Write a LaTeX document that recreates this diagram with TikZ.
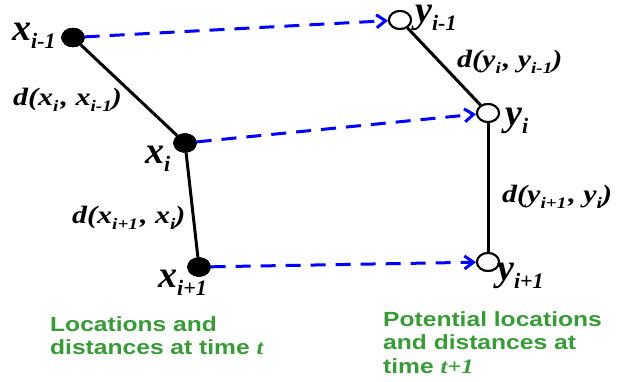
\documentclass[tikz,border=0pt]{standalone}
\usepackage{fontspec}
\setmainfont{Liberation Serif}
\newfontfamily\labsans[FakeStretch=1.2]{Liberation Sans}
\newfontfamily\labserif[FakeStretch=1.2]{Liberation Serif}
\usetikzlibrary{shapes.geometric,arrows.meta}
\definecolor{lblgreen}{RGB}{56,155,56}
\newcommand\bv[2]{{\fontsize{38}{38}\selectfont\bfseries\itshape #1\raisebox{-0.22em}{\fontsize{22}{22}\selectfont #2}}}
\newcommand\sv[2]{#1\raisebox{-0.25em}{\fontsize{16}{16}\selectfont #2}}
\newcommand\dl[1]{{\labserif\fontsize{25}{25}\selectfont\bfseries\itshape #1}}
\tikzset{
  fdot/.style={ellipse,fill=black,draw=black,minimum width=23pt,minimum height=19pt,inner sep=0pt},
  odot/.style={ellipse,fill=white,draw=black,line width=2pt,minimum width=22pt,minimum height=18pt,inner sep=0pt},
  edge/.style={line width=3pt,black},
  move/.style={line width=3pt,blue,dash pattern=on 15pt off 10pt,-{Straight Barb[length=9pt,width=13pt,line width=3pt]}},
  lab/.style={inner sep=0pt,anchor=base west},
  note/.style={inner sep=0pt,anchor=north west,align=left,text=lblgreen,font=\labsans\bfseries\fontsize{20.5}{23.5}\selectfont}
}
\begin{document}
\begin{tikzpicture}[x=1pt,y=-1pt]
\useasboundingbox (0,0) rectangle (618,381);
\node[fdot] (xa) at (73,37.5) {};
\node[fdot] (xb) at (185,143) {};
\node[fdot] (xc) at (199,267) {};
\node[odot] (ya) at (400,20) {};
\node[odot] (yb) at (488,113) {};
\node[odot] (yc) at (488,262) {};
\draw[edge] (xa) -- (xb);
\draw[edge] (xb) -- (xc);
\draw[edge] (ya) -- (yb);
\draw[edge] (yb) -- (yc);
\node[fdot] at (xa) {};
\node[fdot] at (xb) {};
\node[fdot] at (xc) {};
\node[odot] at (ya) {};
\node[odot] at (yb) {};
\node[odot] at (yc) {};
\draw[move] (xa) -- (ya);
\draw[move] (xb) -- (yb);
\draw[move] (xc) -- (yc);
% labels
\node[lab] (lxa) at (12,40) {\bv{x}{i-1}};
\node[lab] (lxb) at (145,163) {\bv{x}{i}};
\node[lab] (lxc) at (158,287) {\bv{x}{i+1}};
\node[lab,text height=18pt] (lya) at (415,22) {\bv{y}{i-1}};
\node[lab] (lyb) at (505,125) {\bv{y}{i}};
\node[lab] (lyc) at (497,280) {\bv{y}{i+1}};
\node[lab] (dxa) at (13,105) {\dl{d(\sv{x}{i}\kern2pt, \sv{x}{i-1})}};
\node[lab] (dxb) at (72,223) {\dl{d(\sv{x}{i+1}\kern2pt, \sv{x}{i})}};
\node[lab] (dya) at (457,67) {\dl{d(\sv{y}{i}\kern2pt, \sv{y}{i-1})}};
\node[lab] (dyb) at (502,202) {\dl{d(\sv{y}{i+1}\kern2pt, \sv{y}{i})}};
\node[note] (n1) at (50,316) {Locations and\\distances at time {\labserif\itshape t}};
\node[note] (n2) at (383,311) {Potential locations\\and distances at\\time {\labserif\itshape t+1}};
\end{tikzpicture}
\end{document}
